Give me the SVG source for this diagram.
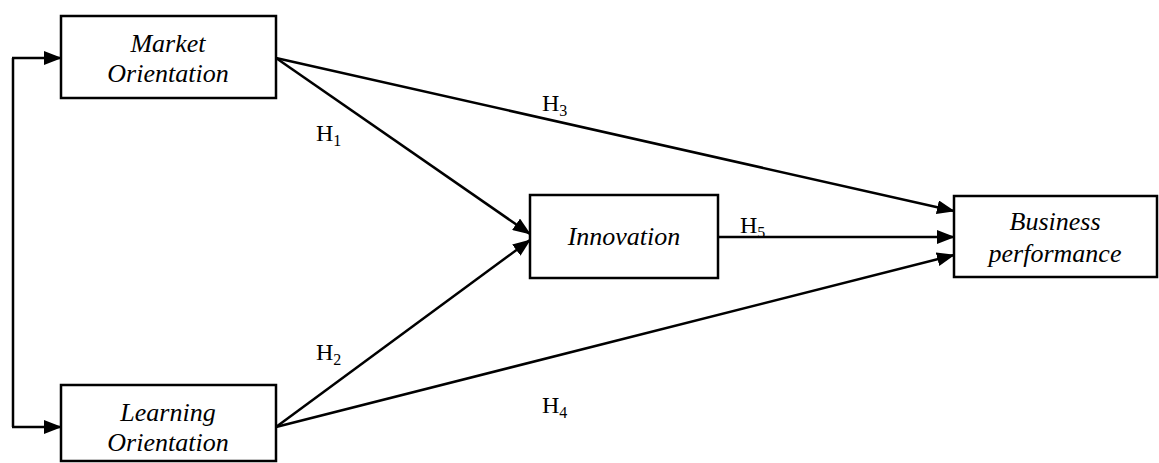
<svg xmlns="http://www.w3.org/2000/svg" width="1159" height="463" viewBox="0 0 1159 463">
<defs>
<marker id="ah" markerWidth="18" markerHeight="14" refX="17" refY="7" orient="auto" markerUnits="userSpaceOnUse">
<path d="M0,0 L18,7 L0,14 Z" fill="#000"/>
</marker>
<style>
.box{fill:#fff;stroke:#000;stroke-width:2.5}
.c{fill:none;stroke:#000;stroke-width:2.5}
</style>
</defs>
<rect width="1159" height="463" fill="#fff"/>
<g id="connectors">
<path class="c" d="M13,58 L13,427" />
<path class="c" d="M12,58 L61,58" marker-end="url(#ah)"/>
<path class="c" d="M12,427 L61,427" marker-end="url(#ah)"/>
<path class="c" d="M276,58 L530,234" marker-end="url(#ah)"/>
<path class="c" d="M276,427 L530,240" marker-end="url(#ah)"/>
<path class="c" d="M276,58 L954,211" marker-end="url(#ah)"/>
<path class="c" d="M718,237 L954,237" marker-end="url(#ah)"/>
<path class="c" d="M276,427 L954,255" marker-end="url(#ah)"/>
<g font-family="Liberation Serif, Times New Roman, serif" font-size="24" fill="#000">
<text x="316" y="141">H<tspan font-size="16" dy="5">1</tspan></text>
<text x="316" y="360">H<tspan font-size="16" dy="5">2</tspan></text>
<text x="542" y="111">H<tspan font-size="16" dy="5">3</tspan></text>
<text x="542" y="413">H<tspan font-size="16" dy="5">4</tspan></text>
<text x="740" y="233">H<tspan font-size="16" dy="5">5</tspan></text>
</g>
</g>
<g font-family="Liberation Serif, Times New Roman, serif" font-style="italic" font-size="26" fill="#000" text-anchor="middle">
<g id="market">
<rect class="box" x="61" y="16" width="215" height="82"/>
<text x="168" y="52">Market</text>
<text x="168" y="82">Orientation</text>
</g>
<g id="learning">
<rect class="box" x="61" y="385" width="215" height="76"/>
<text x="168" y="421">Learning</text>
<text x="168" y="451">Orientation</text>
</g>
<g id="innovation">
<rect class="box" x="530" y="195" width="188" height="83"/>
<text x="624" y="245">Innovation</text>
</g>
<g id="business">
<rect class="box" x="954" y="196" width="203" height="81"/>
<text x="1055" y="230">Business</text>
<text x="1055" y="262">performance</text>
</g>
</g>
</svg>
